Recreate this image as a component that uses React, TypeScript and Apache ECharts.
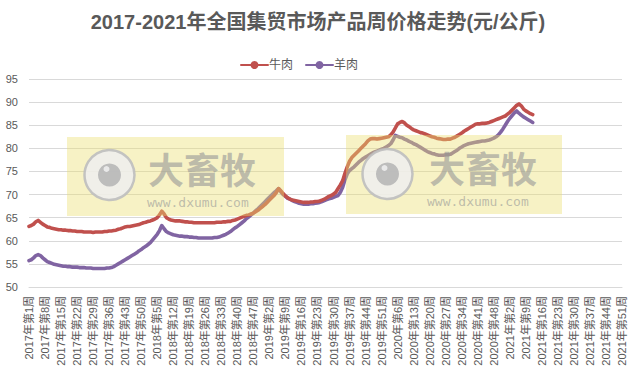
import React, { useEffect, useRef } from "react";
import * as echarts from "echarts";

const TITLE = "2017-2021年全国集贸市场产品周价格走势(元/公斤)";
const YEARS = [2017, 2018, 2019, 2020, 2021];
const WEEKS_PER_YEAR = [52, 52, 52, 53, 51];
const SERIES_NAMES = ["牛肉", "羊肉"];
const Y_MIN = 50;
const Y_MAX = 95;
const Y_STEP = 5;

const beef = [
  63.1, 63.3, 63.6, 64.1, 64.4, 64.0, 63.6, 63.3, 63.0, 62.9,
  62.7, 62.6, 62.5, 62.4, 62.4, 62.3, 62.3, 62.2, 62.2, 62.1,
  62.1, 62.0, 62.0, 62.0, 61.9, 61.9, 61.9, 61.9, 61.8, 61.9,
  61.9, 61.9, 61.9, 62.0, 62.0, 62.1, 62.1, 62.2, 62.3, 62.5,
  62.6, 62.8, 63.0, 63.1, 63.1, 63.2, 63.3, 63.4, 63.5, 63.7,
  63.9, 64.0, 64.2, 64.3, 64.5, 64.7, 65.0, 65.6, 66.4, 65.8,
  65.0, 64.7, 64.5, 64.4, 64.3, 64.3, 64.3, 64.2, 64.1, 64.1,
  64.0, 64.0, 63.9, 63.9, 63.9, 63.9, 63.9, 63.9, 63.9, 63.9,
  63.9, 63.9, 64.0, 64.0, 64.0, 64.1, 64.1, 64.2, 64.2, 64.4,
  64.5, 64.7, 64.9, 65.1, 65.3, 65.5, 65.6, 65.8, 66.0, 66.3,
  66.6, 67.0, 67.4, 67.8, 68.3, 68.8, 69.3, 69.8, 70.4, 71.3,
  70.8, 70.2, 69.7, 69.3, 69.0, 68.8, 68.7, 68.6, 68.5, 68.4,
  68.3, 68.3, 68.3, 68.4, 68.4, 68.5, 68.5, 68.6, 68.8, 69.0,
  69.3, 69.6, 69.8, 70.1, 70.5, 71.3, 72.1, 73.0, 74.6, 76.0,
  77.2, 78.0, 78.5, 79.0, 79.5, 80.0, 80.5, 81.0, 81.6, 82.0,
  82.1, 82.1, 82.0, 82.1, 82.2, 82.3, 82.4, 82.5, 82.9, 83.5,
  84.4, 85.3, 85.6, 85.8, 85.5, 85.0, 84.7, 84.3, 84.0, 83.8,
  83.6, 83.4, 83.3, 83.1, 82.9, 82.7, 82.5, 82.4, 82.2, 82.1,
  82.0, 81.9, 81.9, 82.0, 82.0, 82.2, 82.4, 82.7, 83.0, 83.3,
  83.7, 84.0, 84.3, 84.6, 84.9, 85.2, 85.3, 85.3, 85.4, 85.4,
  85.5, 85.6, 85.8, 86.0, 86.2, 86.4, 86.6, 86.8, 87.0, 87.4,
  87.8, 88.3, 88.8, 89.3, 89.6, 89.2, 88.5, 88.1, 87.8, 87.5,
  87.3,
];

const mutton = [
  55.7, 55.9, 56.3, 56.8, 57.0, 56.8, 56.3, 55.9, 55.5, 55.3,
  55.1, 54.9, 54.8, 54.7, 54.6, 54.5, 54.5, 54.4, 54.4, 54.3,
  54.3, 54.3, 54.2, 54.2, 54.2, 54.1, 54.1, 54.1, 54.0, 54.0,
  54.0, 54.0, 54.0, 54.0, 54.1, 54.1, 54.2, 54.4, 54.7, 55.0,
  55.3, 55.6, 55.9, 56.2, 56.5, 56.8, 57.1, 57.4, 57.8, 58.1,
  58.5, 58.8, 59.2, 59.6, 60.2, 60.8, 61.4, 62.2, 63.3, 62.6,
  62.0, 61.7, 61.5, 61.3, 61.2, 61.1, 61.0, 61.0, 60.9, 60.9,
  60.8, 60.8, 60.7, 60.7, 60.6, 60.6, 60.6, 60.6, 60.6, 60.6,
  60.6, 60.7, 60.7, 60.8, 61.0, 61.2, 61.4, 61.7, 62.0, 62.4,
  62.8, 63.1, 63.5, 63.9, 64.3, 64.8, 65.2, 65.6, 66.0, 66.5,
  66.9, 67.4, 67.9, 68.4, 68.9, 69.4, 69.9, 70.4, 70.8, 71.3,
  70.6, 70.0, 69.6, 69.2, 69.0, 68.7, 68.5, 68.3, 68.1, 68.0,
  67.9, 67.9, 67.9, 68.0, 68.0, 68.1, 68.2, 68.3, 68.5, 68.7,
  68.9, 69.1, 69.2, 69.4, 69.6, 69.8, 70.5, 71.6, 73.2, 74.5,
  75.2, 75.6, 76.0, 76.5, 77.0, 77.4, 77.8, 78.1, 78.4, 78.7,
  79.0, 79.2, 79.4, 79.6, 79.8, 80.0, 80.3, 80.6, 81.0, 81.8,
  82.8, 82.6, 82.4, 82.3, 82.0, 81.8, 81.5, 81.3, 81.0, 80.8,
  80.5, 80.2, 79.9, 79.6, 79.3, 79.1, 78.9, 78.8, 78.6, 78.5,
  78.5, 78.5, 78.6, 78.6, 78.7, 79.0, 79.3, 79.6, 80.0, 80.3,
  80.6, 80.8, 81.0, 81.1, 81.2, 81.3, 81.4, 81.5, 81.6, 81.6,
  81.7, 81.8, 82.0, 82.2, 82.5, 82.9, 83.5, 84.2, 85.0, 85.8,
  86.5, 87.1, 87.7, 88.1, 87.6, 87.2, 86.8, 86.5, 86.2, 85.9,
  85.6,
];

const FONT = "'Liberation Sans', 'Noto Sans CJK SC', sans-serif";
const CJK = "'Noto Sans CJK SC', sans-serif";

function watermark(rx: number, ry: number, rw: number, rh: number, cx: number, cy: number, tx: number, ty: number, ux: number, uy: number) {
  return [
    {
      type: "rect",
      z: 100,
      shape: { x: rx, y: ry, width: rw, height: rh },
      style: { fill: "rgba(236,222,110,0.40)" },
    },
    {
      type: "circle",
      z: 101,
      shape: { cx, cy, r: 25 },
      style: { fill: "rgba(238,238,238,0.85)", stroke: "rgba(190,190,190,0.9)", lineWidth: 2.5 },
    },
    {
      type: "circle",
      z: 102,
      shape: { cx, cy, r: 11.5 },
      style: { fill: "rgba(185,185,185,0.95)" },
    },
    {
      type: "circle",
      z: 103,
      shape: { cx: cx - 3, cy: cy - 6, r: 3 },
      style: { fill: "rgba(235,235,235,0.95)" },
    },
    {
      type: "text",
      z: 104,
      x: tx,
      y: ty,
      style: {
        text: "大畜牧",
        fontSize: 36,
        lineHeight: 36,
        fontWeight: "bold",
        fontFamily: CJK,
        fill: "rgba(150,150,150,0.6)",
        align: "left",
        verticalAlign: "middle",
      },
    },
    {
      type: "text",
      z: 104,
      x: ux,
      y: uy,
      style: {
        text: "www.dxumu.com",
        fontSize: 13,
        lineHeight: 12,
        fontFamily: "'DejaVu Sans Mono', monospace",
        fill: "rgba(150,150,150,0.6)",
        align: "left",
        verticalAlign: "middle",
      },
    },
  ];
}

export default function App() {
  const ref = useRef<HTMLDivElement>(null);

  useEffect(() => {
    if (!ref.current) return;
    const chart = echarts.init(ref.current, null, { renderer: "svg" });

    const categories: string[] = [];
    YEARS.forEach((y, i) => {
      for (let w = 1; w <= WEEKS_PER_YEAR[i]; w++) categories.push(`${y}年第${w}周`);
    });

    const colors = ["#c0504d", "#8064a2"];
    const seriesData = [beef, mutton];

    chart.setOption({
      animation: false,
      backgroundColor: "#ffffff",
      color: colors,
      title: {
        text: TITLE,
        left: "center",
        top: 7,
        textStyle: { fontSize: 20, fontWeight: "bold", color: "#595959", fontFamily: FONT },
      },
      legend: {
        left: 235,
        top: 54,
        itemWidth: 27,
        itemHeight: 10,
        itemGap: 12,
        textStyle: { fontSize: 12, color: "#595959", fontFamily: FONT, padding: [0, 0, 0, -4] },
        data: SERIES_NAMES,
      },
      grid: { left: 29, right: 14, top: 79, bottom: 88, containLabel: false },
      xAxis: {
        type: "category",
        data: categories,
        boundaryGap: false,
        axisLine: { show: true, lineStyle: { color: "#d9d9d9" } },
        axisTick: { show: false },
        axisLabel: {
          interval: 6,
          rotate: 90,
          margin: 9,
          fontSize: 11,
          color: "#595959",
          fontFamily: FONT,
        },
        splitLine: { show: false },
      },
      yAxis: {
        type: "value",
        min: Y_MIN,
        max: Y_MAX,
        interval: Y_STEP,
        axisLine: { show: false },
        axisTick: { show: false },
        axisLabel: { fontSize: 11, color: "#595959", margin: 11, fontFamily: FONT },
        splitLine: { lineStyle: { color: "#d9d9d9", width: 1 } },
      },
      series: SERIES_NAMES.map((name, i) => ({
        name,
        type: "line",
        data: seriesData[i],
        symbol: "circle",
        symbolSize: 7,
        showSymbol: false,
        lineStyle: { width: 3.6, color: colors[i], join: "round", cap: "round" },
        itemStyle: { color: colors[i] },
        z: 2 + (1 - i),
      })),
      graphic: {
        elements: [
          ...watermark(67, 137, 217, 79, 109.5, 175, 148, 168, 147, 202),
          ...watermark(346, 135, 216, 79, 387.5, 174, 429, 167, 427, 201),
        ],
      },
    });

    return () => chart.dispose();
  }, []);

  return <div ref={ref} style={{ width: 636, height: 375, position: "absolute", left: 0, top: 0 }} />;
}
